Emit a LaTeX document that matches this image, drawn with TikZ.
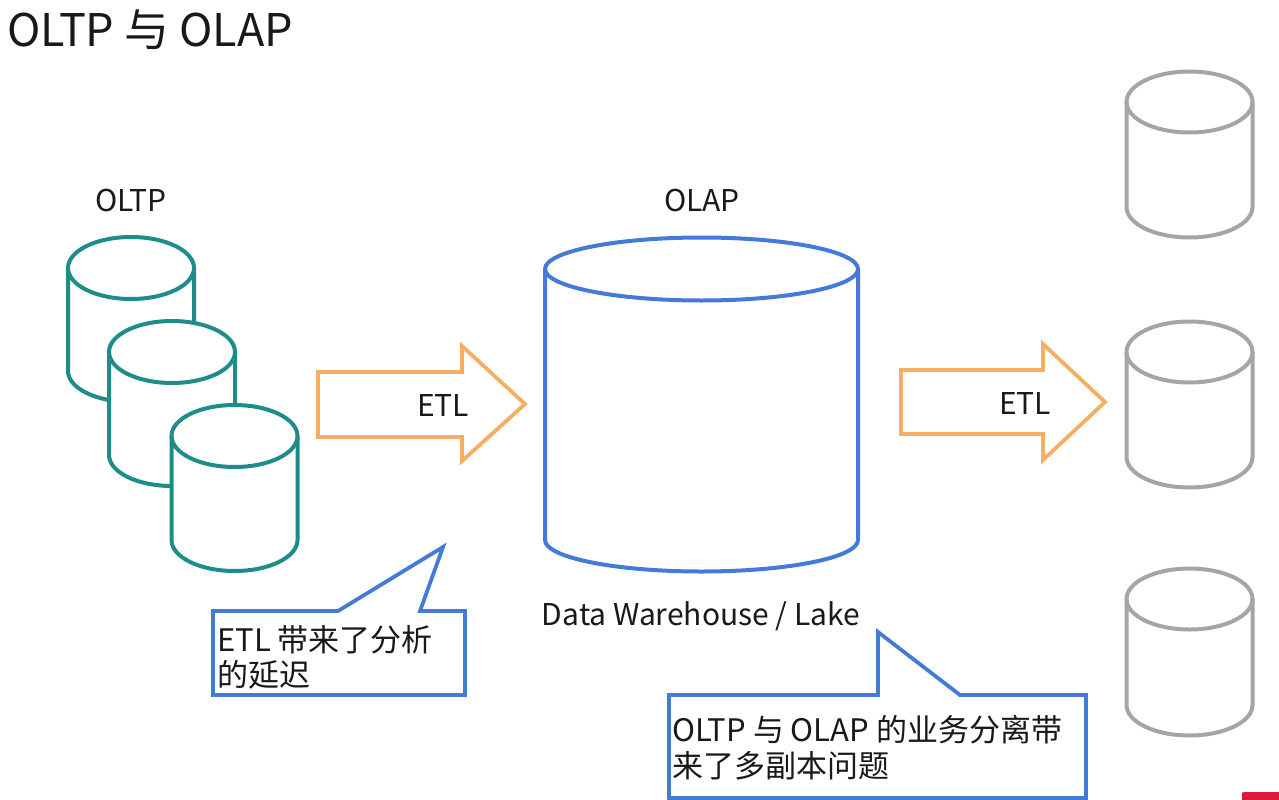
\documentclass[tikz,border=0pt]{standalone}
\usepackage{fontspec}
\setmainfont{Noto Sans CJK SC}
\definecolor{tealc}{RGB}{30,140,135}
\definecolor{bluec}{RGB}{68,122,216}
\definecolor{greyc}{RGB}{165,165,165}
\definecolor{orangec}{RGB}{245,175,100}
\definecolor{txtc}{RGB}{25,25,25}
\definecolor{redc}{RGB}{220,25,55}
\newcommand\dbcyl[6]{%
  \pgfmathsetmacro\cxl{#1-#4}\pgfmathsetmacro\cxr{#1+#4}%
  \path[fill=white] (\cxl,#2) -- (\cxl,#3) arc[start angle=180,end angle=0,x radius=#4,y radius=#5] -- (\cxr,#2) arc[start angle=0,end angle=-180,x radius=#4,y radius=#5] -- cycle;
  \draw[#6] (\cxl,#2) -- (\cxl,#3) arc[start angle=180,end angle=0,x radius=#4,y radius=#5] -- (\cxr,#2);
  \draw[#6] (#1,#2) ellipse[x radius=#4, y radius=#5];
}
\tikzset{
  tealdb/.style={draw=tealc, line width=4pt},
  bluedb/.style={draw=bluec, line width=4pt},
  greydb/.style={draw=greyc, line width=4pt},
  etlarrow/.style={draw=orangec, line width=3.8pt, fill=white, line join=miter},
  callout/.style={draw=bluec, line width=3.8pt, fill=white, line join=miter},
  lbl/.style={font=\fontsize{30}{36}\selectfont, text=txtc, inner sep=0pt},
  ctext/.style={font=\fontsize{31}{36}\selectfont, text=txtc, inner sep=0pt, anchor=base west},
}
\begin{document}
\begin{tikzpicture}[x=1pt,y=-1pt]
\path[fill=white] (0,0) rectangle (1279,800);
\useasboundingbox (0,0) rectangle (1279,800);
% title
\node[font=\fontsize{45}{52}\selectfont, text=txtc, inner sep=0pt, anchor=base west] (title) at (7,47) {OLTP 与 OLAP};
% OLTP
\node[lbl, anchor=base] (oltp) at (131,211) {OLTP};
\dbcyl{131}{268}{371}{63}{31}{tealdb}
\dbcyl{172}{352}{455}{63}{31}{tealdb}
\dbcyl{234.5}{436}{540}{63}{31}{tealdb}
% ETL arrow 1
\draw[etlarrow] (318,372) -- (462,372) -- (462,346) -- (525,404) -- (462,461) -- (462,437) -- (318,437) -- cycle;
\node[lbl, anchor=base] (etl1) at (443,416) {ETL};
% OLAP
\node[lbl, anchor=base] (olap) at (702,211) {OLAP};
\dbcyl{701.5}{269}{540}{156.5}{31.5}{bluedb}
\node[lbl, anchor=base] (dwl) at (701,625) {Data Warehouse / Lake};
% ETL arrow 2
\draw[etlarrow] (901,370) -- (1043,370) -- (1043,344) -- (1105,402) -- (1043,460) -- (1043,434) -- (901,434) -- cycle;
\node[lbl, anchor=base] (etl2) at (1025,414) {ETL};
% grey cylinders
\dbcyl{1189.5}{102}{207}{63}{30.5}{greydb}
\dbcyl{1189.5}{352}{457}{63}{30.5}{greydb}
\dbcyl{1189.5}{599}{705}{63}{30.5}{greydb}
% callout 1
\draw[callout] (213,611) -- (338,611) -- (443,547) -- (420,611) -- (465,611) -- (465,695) -- (213,695) -- cycle;
\node[ctext] (c1a) at (217,651) {ETL 带来了分析};
\node[ctext] (c1b) at (217,686) {的延迟};
% callout 2
\draw[callout] (669,695) -- (878,695) -- (878,632) -- (960,695) -- (1086,695) -- (1086,798) -- (669,798) -- cycle;
\node[ctext] (c2a) at (672,741) {OLTP 与 OLAP 的业务分离带};
\node[ctext] (c2b) at (672,777) {来了多副本问题};
% red corner mark
\path[fill=redc, rounded corners=2pt] (1242,792) rectangle (1285,806);
\end{tikzpicture}
\end{document}
